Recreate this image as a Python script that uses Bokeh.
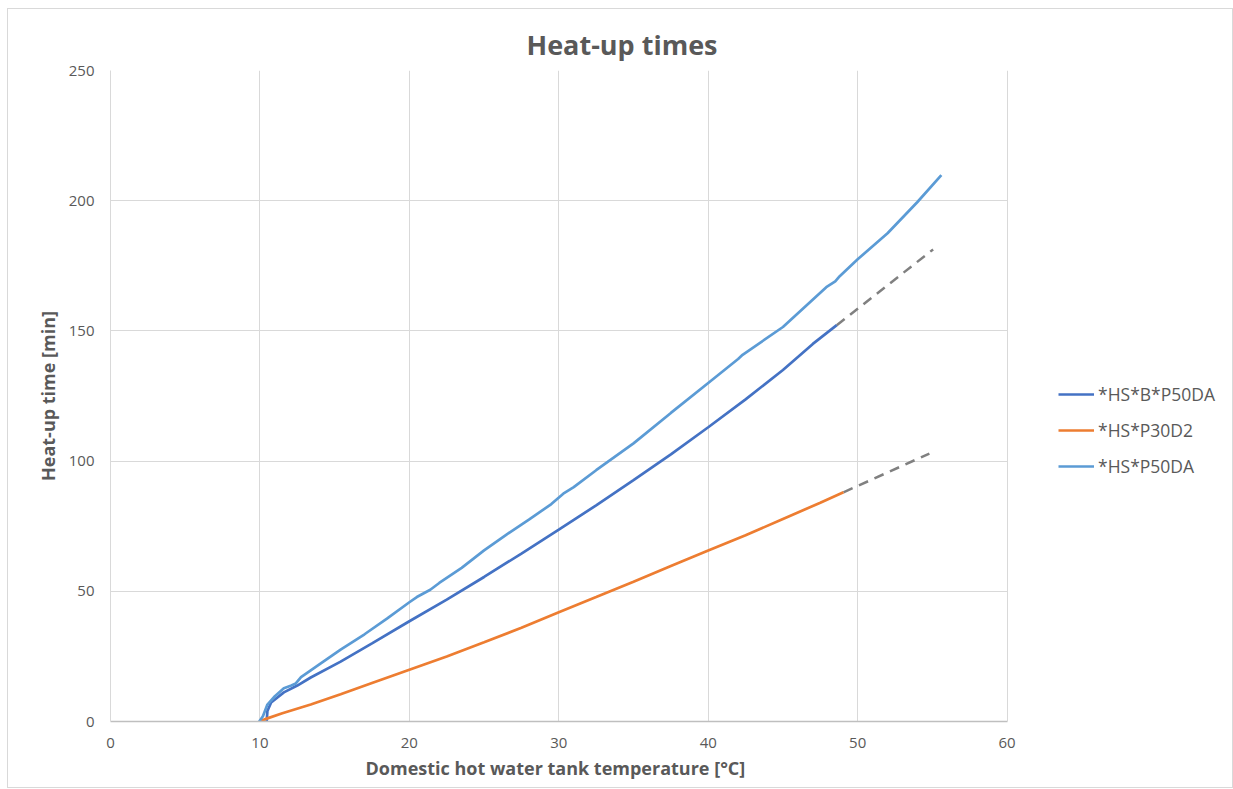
from bokeh.plotting import figure
from bokeh.models import Legend, LegendItem, FixedTicker, Range1d, Grid, Title
from bokeh.embed import file_html
from bokeh.resources import INLINE

# ---- data ----
title_text = "Heat-up times"
x_label = "Domestic hot water tank temperature [°C]"
y_label = "Heat-up time [min]"
x_ticks = [0, 10, 20, 30, 40, 50, 60]
y_ticks = [0, 50, 100, 150, 200, 250]

series_names = ["*HS*B*P50DA", "*HS*P30D2", "*HS*P50DA"]

hsb_x = [10.45, 10.5, 10.75, 11.6, 12.5, 13.4, 15.4, 17.5, 20, 22.5, 25, 27.5, 30,
         32.5, 35, 37.5, 40, 42.5, 45, 47, 48.6]
hsb_y = [0, 4, 7.3, 11.2, 13.8, 16.9, 23, 30, 38.5, 46.8, 55.5, 64.5, 73.7,
         83, 92.7, 102.6, 113, 123.7, 135, 145, 152.2]

p30_x = [9.95, 10.5, 11.5, 13.4, 15.4, 17.5, 20, 22.5, 25, 27.5, 30, 32.5, 35,
         37.5, 40, 42.5, 45, 47.5, 49.05]
p30_y = [0, 1.2, 3.2, 6.5, 10.5, 14.8, 19.9, 25, 30.4, 36, 42, 47.8, 53.7,
         59.7, 65.7, 71.5, 77.8, 84, 88]

p50_x = [9.95, 10.2, 10.5, 11.0, 11.6, 12.1, 12.4, 12.75, 13.4, 14.0, 15.4, 17, 18.5,
         20, 20.5, 21.4, 22, 23.5, 25, 26.5, 28, 29.5, 30.3, 31, 32.5, 35, 37.5,
         40, 42.0, 42.3, 45, 47.9, 48.5, 48.8, 50, 52, 54, 55.6]
p50_y = [0, 2, 6.5, 9.7, 12.8, 13.8, 14.6, 17.0, 19.6, 22.0, 27.6, 33.5, 39.5,
         45.8, 47.8, 50.6, 53.2, 59.0, 65.7, 71.8, 77.5, 83.5, 87.5, 90, 96.5, 106.8, 118.5,
         130, 139.2, 140.8, 151.5, 166.8, 169, 171, 177.5, 187.5, 199.5, 209.8]

# grey dashed extensions
ext_hsb_x = [48.6, 55.05]
ext_hsb_y = [152.2, 181.3]
ext_p30_x = [49.05, 54.8]
ext_p30_y = [88, 102.9]

colors = ["#4472C4", "#ED7D31", "#5B9BD5"]
grey = "#808080"
text_col = "#595959"
grid_col = "#d9d9d9"
FONT = "Open Sans"

X_MIN, X_MAX = x_ticks[0], x_ticks[-1]
# frame is widened to the right so the legend area lies inside the plot frame
FRAME_PX = 895.0
EXTRA_PX = 227.0
x_end = X_MAX + (X_MAX - X_MIN) * EXTRA_PX / FRAME_PX

p = figure(width=1226, height=780, output_backend="svg", toolbar_location=None,
           x_range=Range1d(X_MIN, x_end), y_range=Range1d(y_ticks[0], y_ticks[-1]),
           min_border_left=102, min_border_right=0, min_border_top=61, min_border_bottom=68)
p.styles = {"border": "1px solid #d9d9d9", "box-sizing": "border-box",
            "margin-left": "7px", "margin-top": "8px"}
p.outline_line_color = None
p.background_fill_color = "white"
p.border_fill_color = "white"

# title
p.title.text = title_text
p.title.text_font = FONT
p.title.text_font_size = "27px"
p.title.text_font_style = "bold"
p.title.text_color = text_col
p.title.align = "left"
p.title.offset = 416
p.title.standoff = 16

# axes
for ax in (p.xaxis[0], p.yaxis[0]):
    ax.major_tick_line_color = None
    ax.minor_tick_line_color = None
    ax.major_label_text_font = FONT
    ax.major_label_text_font_size = "15px"
    ax.major_label_text_color = text_col
    ax.axis_label_text_font = FONT
    ax.axis_label_text_font_size = "18px"
    ax.axis_label_text_font_style = "bold"
    ax.axis_label_text_color = text_col

p.xaxis.ticker = FixedTicker(ticks=x_ticks)
p.yaxis.ticker = FixedTicker(ticks=y_ticks)
p.xaxis.bounds = (X_MIN, X_MAX)
p.yaxis.axis_label = y_label
p.xaxis.axis_line_color = "#bfbfbf"
p.xaxis.axis_line_width = 1.5
p.yaxis.axis_line_color = grid_col
p.xaxis.major_label_standoff = 10
p.yaxis.major_label_standoff = 10
p.yaxis.axis_label_standoff = 6

# x-axis title centred under the 0..60 part of the frame
xt = Title(text=x_label, align="left", offset=255, text_font=FONT,
           text_font_size="18px", text_font_style="bold", text_color=text_col, standoff=6)
p.add_layout(xt, "below")

p.xgrid.grid_line_color = grid_col
p.ygrid.grid_line_color = grid_col
if "cross_bounds" in Grid.properties():
    p.ygrid.cross_bounds = (X_MIN, X_MAX)
else:
    p.ygrid.grid_line_color = None
    p.segment(x0=[X_MIN] * len(y_ticks), x1=[X_MAX] * len(y_ticks), y0=y_ticks, y1=y_ticks,
              line_color=grid_col, line_width=1)

# grey dashed extensions (drawn first)
p.line(ext_hsb_x, ext_hsb_y, line_color=grey, line_width=2.5, line_dash="10 7")
p.line(ext_p30_x, ext_p30_y, line_color=grey, line_width=2.5, line_dash="10 7")

r1 = p.line(hsb_x, hsb_y, line_color=colors[0], line_width=2.7)
r2 = p.line(p30_x, p30_y, line_color=colors[1], line_width=2.7)
r3 = p.line(p50_x, p50_y, line_color=colors[2], line_width=2.7)

legend = Legend(items=[LegendItem(label=series_names[0], renderers=[r1]),
                       LegendItem(label=series_names[1], renderers=[r2]),
                       LegendItem(label=series_names[2], renderers=[r3])],
                location=(948, 243))
legend.padding = 0
legend.margin = 0
legend.spacing = 12
legend.glyph_width = 36
legend.glyph_height = 22
legend.label_height = 22
legend.label_standoff = 4
legend.label_text_font = FONT
legend.label_text_font_size = "17.5px"
legend.label_text_color = text_col
legend.border_line_color = None
legend.background_fill_alpha = 0
p.add_layout(legend, "center")

open("out.html", "w").write(file_html(p, INLINE))
